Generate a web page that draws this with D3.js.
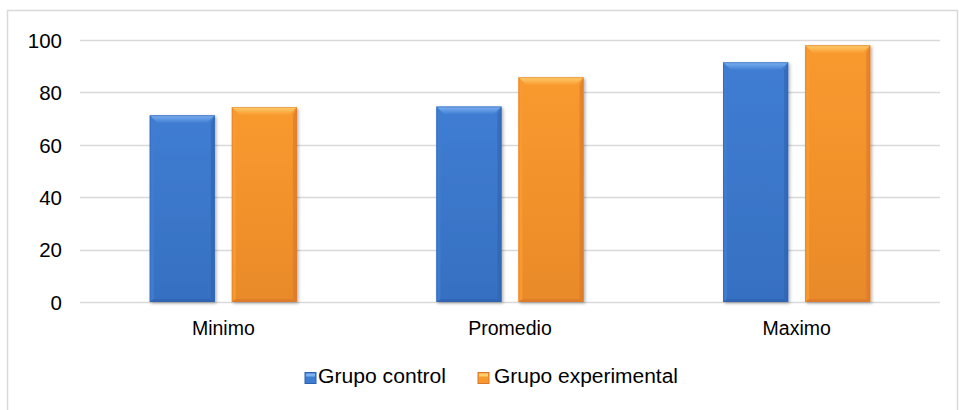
<!DOCTYPE html>
<html>
<head>
<meta charset="utf-8">
<script src="https://cdn.jsdelivr.net/npm/d3@7/dist/d3.min.js"></script>
<style>
  html, body { margin: 0; padding: 0; background: #fff; }
  svg { display: block; font-family: "Liberation Sans", Arial, sans-serif; }
</style>
</head>
<body>
<svg id="chart" width="959" height="410"></svg>
<script>
// Chart data
const categories = ["Minimo", "Promedio", "Maximo"];
const seriesNames = ["Grupo control", "Grupo experimental"];
const controlValues = [71.3, 74.6, 91.5];
const experimentalValues = [74.4, 85.8, 98.0];
const yTicks = [0, 20, 40, 60, 80, 100];

const seriesValues = [controlValues, experimentalValues];
const palette = [
  { light: "#7DB2F2", base: "#3F7DD2", dark: "#2F62AE", side: "#3670C2" },
  { light: "#FFCF70", base: "#F99A2E", dark: "#D9772A", side: "#E98A2A" }
];

const svg = d3.select("#chart");
const W = 959, H = 410;
const plot = { left: 80, right: 940, top: 40, bottom: 302 };

// outer frame
svg.append("rect")
  .attr("x", 7.5).attr("y", 10.5)
  .attr("width", W - 9).attr("height", H)
  .attr("fill", "#fff").attr("stroke", "#D9D9D9").attr("stroke-width", 1.5);

const y = d3.scaleLinear().domain([0, 100]).range([plot.bottom, plot.top]);
const x0 = d3.scaleBand().domain(categories).range([plot.left, plot.right]).padding(0);
const x1 = d3.scaleBand().domain(seriesNames).range([0, x0.bandwidth()])
  .paddingInner(0.207).paddingOuter(0.85);

// gridlines
svg.append("g").selectAll("line").data(yTicks).join("line")
  .attr("x1", plot.left).attr("x2", plot.right)
  .attr("y1", d => Math.round(y(d)) + 0.5).attr("y2", d => Math.round(y(d)) + 0.5)
  .attr("stroke", "#D9D9D9").attr("stroke-width", 1.5);

// y axis labels
const yAxis = d3.axisLeft(y).tickValues(yTicks).tickSize(0).tickPadding(0);
const gy = svg.append("g").attr("transform", `translate(${62},0)`).call(yAxis);
gy.select(".domain").remove();
gy.selectAll("text").attr("font-size", 20.5).attr("fill", "#000").attr("dy", "0.36em")
  .attr("font-family", '"Liberation Sans", Arial, sans-serif');

// x axis labels
const xAxis = d3.axisBottom(x0).tickSize(0).tickPadding(0);
const gx = svg.append("g").attr("transform", `translate(0,${335})`).call(xAxis);
gx.select(".domain").remove();
gx.selectAll("text").attr("font-size", 19.5).attr("fill", "#000").attr("dy", 0)
  .attr("font-family", '"Liberation Sans", Arial, sans-serif');

// gradients and shadow
const defs = svg.append("defs");
palette.forEach((p, i) => {
  const g = defs.append("linearGradient").attr("id", "body" + i)
    .attr("x1", 0).attr("y1", 0).attr("x2", 0).attr("y2", 1);
  g.append("stop").attr("offset", "0%").attr("stop-color", p.base);
  g.append("stop").attr("offset", "100%").attr("stop-color", p.side);
  const t = defs.append("linearGradient").attr("id", "top" + i)
    .attr("x1", 0).attr("y1", 0).attr("x2", 0).attr("y2", 1);
  t.append("stop").attr("offset", "0%").attr("stop-color", p.light);
  t.append("stop").attr("offset", "100%").attr("stop-color", p.base);
});
const f = defs.append("filter").attr("id", "shadow")
  .attr("x", "-20%").attr("y", "-20%").attr("width", "140%").attr("height", "140%");
f.append("feDropShadow").attr("dx", 1.5).attr("dy", 1.5).attr("stdDeviation", 1.5)
  .attr("flood-color", "#000").attr("flood-opacity", 0.3);

// bars with bevelled faces
const rows = categories.map((c, ci) => ({
  cat: c,
  bars: seriesNames.map((s, si) => ({ s, si, v: seriesValues[si][ci] }))
}));
const groups = svg.append("g").selectAll("g").data(rows).join("g")
  .attr("transform", d => `translate(${x0(d.cat)},0)`);
const bar = groups.selectAll("g").data(d => d.bars).join("g")
  .attr("filter", "url(#shadow)");

const bev = 8;
bar.each(function(d) {
  const g = d3.select(this);
  const p = palette[d.si];
  const bx = x1(d.s), bw = x1.bandwidth();
  const by = y(d.v), bh = y(0) - y(d.v);
  g.append("rect").attr("x", bx).attr("y", by).attr("width", bw).attr("height", bh)
    .attr("fill", `url(#body${d.si})`);
  // top bevel
  g.append("path").attr("d",
    `M${bx},${by} L${bx + bw},${by} L${bx + bw - bev},${by + bev} L${bx + bev},${by + bev} Z`)
    .attr("fill", `url(#top${d.si})`);
  // left bevel
  g.append("path").attr("d",
    `M${bx},${by} L${bx + bev * 0.5},${by + bev} L${bx + bev * 0.5},${by + bh - 3} L${bx},${by + bh} Z`)
    .attr("fill", p.base).attr("opacity", 0.9);
  // right bevel
  g.append("path").attr("d",
    `M${bx + bw},${by} L${bx + bw - bev * 0.5},${by + bev} L${bx + bw - bev * 0.5},${by + bh - 3} L${bx + bw},${by + bh} Z`)
    .attr("fill", p.dark).attr("opacity", 0.6);
  // bottom bevel
  g.append("path").attr("d",
    `M${bx},${by + bh} L${bx + bev * 0.5},${by + bh - 3} L${bx + bw - bev * 0.5},${by + bh - 3} L${bx + bw},${by + bh} Z`)
    .attr("fill", p.dark).attr("opacity", 0.7);
  // outline
  g.append("rect").attr("x", bx + 0.5).attr("y", by + 0.5).attr("width", bw - 1).attr("height", bh - 1)
    .attr("fill", "none").attr("stroke", p.dark).attr("stroke-opacity", 0.5).attr("stroke-width", 1);
});

// legend
const legendItems = [
  { name: seriesNames[0], sx: 305, tx: 318, len: 128 },
  { name: seriesNames[1], sx: 478, tx: 494, len: 184 }
];
const lg = svg.append("g").selectAll("g").data(legendItems).join("g");
lg.append("rect")
  .attr("x", d => d.sx).attr("y", 372.5).attr("width", 11).attr("height", 11)
  .attr("fill", (d, i) => palette[i].base).attr("stroke", (d, i) => palette[i].dark).attr("stroke-width", 1);
lg.append("rect")
  .attr("x", d => d.sx + 1).attr("y", 373.5).attr("width", 9).attr("height", 3)
  .attr("fill", (d, i) => palette[i].light);
lg.append("text")
  .attr("x", d => d.tx).attr("y", 383)
  .attr("font-size", 19.5).attr("fill", "#000")
  .attr("textLength", d => d.len).attr("lengthAdjust", "spacingAndGlyphs")
  .text(d => d.name);
</script>
</body>
</html>
